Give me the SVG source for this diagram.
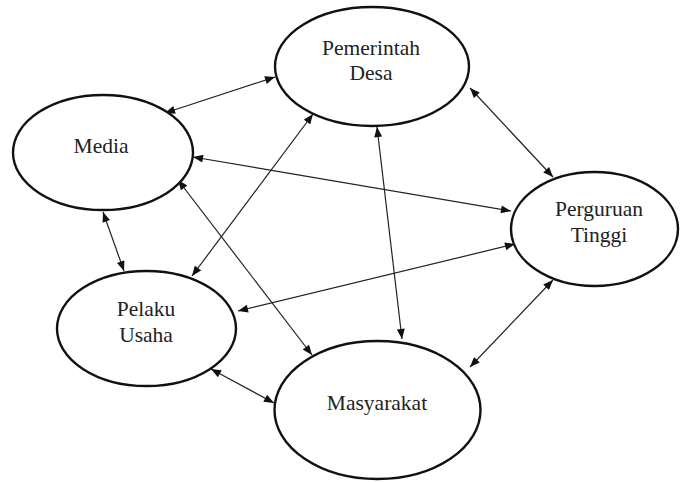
<svg xmlns="http://www.w3.org/2000/svg" width="681" height="482" viewBox="0 0 681 482">
<style>
.node ellipse{fill:#fff;stroke:#111;stroke-width:2.4}
.node text{font-family:'Liberation Serif','Times New Roman',serif;font-size:21.5px;fill:#222;text-anchor:middle}
.conn line{stroke:#222;stroke-width:1.2;marker-start:url(#ah);marker-end:url(#ah)}
</style>
<defs>
<marker id="ah" viewBox="0 0 10 8" refX="10" refY="4" markerWidth="11" markerHeight="8" markerUnits="userSpaceOnUse" orient="auto-start-reverse">
<path d="M0,0 L10,4 L0,8 z" fill="#111"/>
</marker>
</defs>
<rect width="681" height="482" fill="#fff"/>
<g id="connectors" class="conn">
<line x1="165" y1="113" x2="275" y2="77"/>
<line x1="193" y1="157" x2="511" y2="211"/>
<line x1="470" y1="88" x2="553" y2="177"/>
<line x1="313" y1="114" x2="192" y2="276"/>
<line x1="377" y1="127" x2="402" y2="339"/>
<line x1="103" y1="212" x2="124" y2="271"/>
<line x1="178" y1="180" x2="312" y2="355"/>
<line x1="515" y1="244" x2="238" y2="311"/>
<line x1="553" y1="280" x2="470" y2="367"/>
<line x1="211" y1="369" x2="274" y2="403"/>
</g>
<g id="pemerintah-desa" class="node" font-family="Liberation Serif, serif">
<ellipse cx="372" cy="66.5" rx="97" ry="59.5"/>
<text x="371" y="55">Pemerintah</text>
<text x="371" y="80">Desa</text>
</g>
<g id="media" class="node" font-family="Liberation Serif, serif">
<ellipse cx="103" cy="152.5" rx="90" ry="57.5"/>
<text x="101" y="153">Media</text>
</g>
<g id="perguruan-tinggi" class="node" font-family="Liberation Serif, serif">
<ellipse cx="594.5" cy="229" rx="83.5" ry="57"/>
<text x="599" y="216">Perguruan</text>
<text x="599" y="242">Tinggi</text>
</g>
<g id="pelaku-usaha" class="node" font-family="Liberation Serif, serif">
<ellipse cx="146.5" cy="328.5" rx="89.5" ry="57.5"/>
<text x="146" y="316">Pelaku</text>
<text x="146" y="342">Usaha</text>
</g>
<g id="masyarakat" class="node" font-family="Liberation Serif, serif">
<ellipse cx="377.5" cy="410" rx="103" ry="69"/>
<text x="377" y="410">Masyarakat</text>
</g>
</svg>
